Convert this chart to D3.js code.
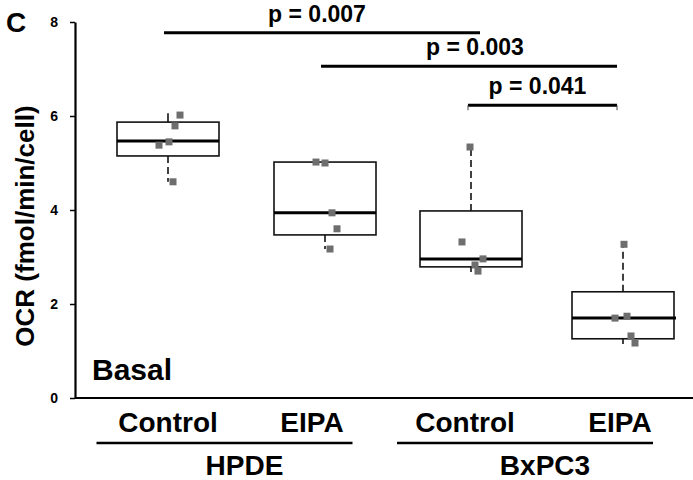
<!DOCTYPE html>
<html>
<head>
<meta charset="utf-8">
<script src="https://cdn.jsdelivr.net/npm/d3@7"></script>
<style>
  body { margin: 0; background: #fff; }
  svg { font-family: "Liberation Sans", Arial, sans-serif; }
</style>
</head>
<body>
<svg id="chart" width="693" height="480"></svg>
<script>
// categories (cell line + treatment)
const groups = ["HPDE", "BxPC3"];
const treatments = ["Control", "EIPA", "Control", "EIPA"];
const keys = ["HPDE-Control", "HPDE-EIPA", "BxPC3-Control", "BxPC3-EIPA"];

// box stats: [lowWhisker, q1, median, q3, highWhisker]
const boxStats = [
  [4.60, 5.15, 5.47, 5.87, 6.06],
  [3.17, 3.47, 3.94, 5.02, 5.02],
  [2.68, 2.79, 2.96, 3.98, 5.34],
  [1.15, 1.26, 1.70, 2.26, 3.27]
];

// individual measurements (jitter offset in px, value)
const pointsHPDEControl = [[12, 6.02], [7, 5.79], [1, 5.45], [-9, 5.38], [5, 4.60]];
const pointsHPDEEIPA = [[-9, 5.02], [0, 5.00], [7, 3.94], [12, 3.60], [5, 3.17]];
const pointsBxControl = [[-1, 5.34], [-9, 3.32], [12, 2.96], [4, 2.83], [7, 2.70]];
const pointsBxEIPA = [[1, 3.27], [-8, 1.70], [4, 1.74], [8, 1.32], [12, 1.17]];
const allPoints = [pointsHPDEControl, pointsHPDEEIPA, pointsBxControl, pointsBxEIPA];

// significance comparisons: [from index, to index, level, p label]
const comparisons = [
  [0, 2, 7.77, "p = 0.007"],
  [1, 3, 7.06, "p = 0.003"],
  [2, 3, 6.23, "p = 0.041"]
];

const yTicks = [0, 2, 4, 6, 8];

const svg = d3.select("#chart");

const x = d3.scaleBand().domain(keys).range([92, 700]);
const y = d3.scaleLinear().domain([0, 8]).range([398, 22]);
const nudge = [0, 5, -1, -1];
const cx = k => x(k) + x.bandwidth() / 2 + nudge[keys.indexOf(k)];
const boxW = 102;

// axes
svg.append("line")
  .attr("x1", 75).attr("x2", 693)
  .attr("y1", y(0)).attr("y2", y(0))
  .attr("stroke", "#000").attr("stroke-width", 2.2);

const yAxis = svg.append("g")
  .attr("transform", "translate(75,0)")
  .call(d3.axisLeft(y).tickValues(yTicks).tickSize(5).tickPadding(12).tickSizeOuter(0));
yAxis.select(".domain").attr("stroke-width", 2.2);
yAxis.selectAll(".tick line").attr("stroke-width", 1.5);
yAxis.selectAll(".tick text")
  .attr("font-size", 14).attr("font-weight", "bold").attr("fill", "#000");

// boxes
keys.forEach((k, i) => {
  const [lo, q1, med, q3, hi] = boxStats[i];
  const c = cx(k);
  const g = svg.append("g");
  // whiskers
  g.append("line")
    .attr("x1", c).attr("x2", c).attr("y1", y(q3)).attr("y2", y(hi))
    .attr("stroke", "#111").attr("stroke-width", 1.6)
    .attr("stroke-dasharray", i === 0 ? null : "7,4");
  g.append("line")
    .attr("x1", c).attr("x2", c).attr("y1", y(q1)).attr("y2", y(lo))
    .attr("stroke", "#111").attr("stroke-width", 1.6)
    .attr("stroke-dasharray", "7,4");
  g.append("rect")
    .attr("x", c - boxW / 2).attr("width", boxW)
    .attr("y", y(q3)).attr("height", y(q1) - y(q3))
    .attr("fill", "#fff").attr("stroke", "#111").attr("stroke-width", 1.6);
  g.append("line")
    .attr("x1", c - boxW / 2).attr("x2", c + boxW / 2 + (i === 3 ? 2 : 0))
    .attr("y1", y(med)).attr("y2", y(med))
    .attr("stroke", "#000").attr("stroke-width", 3);
  // points
  g.selectAll("rect.pt")
    .data(allPoints[i])
    .join("rect")
    .attr("class", "pt")
    .attr("x", d => c + d[0] - 3.5)
    .attr("y", d => y(d[1]) - 3.5)
    .attr("width", 7).attr("height", 7)
    .attr("fill", "#6e6e6e");
});

// significance bars
const barEnds = [[-4, 9], [-4, -6], [-3, -6]];
const textShift = [-5, 6, -5];
comparisons.forEach(([a, b, lvl, label], j) => {
  const x1 = cx(keys[a]) + barEnds[j][0], x2 = cx(keys[b]) + barEnds[j][1];
  svg.append("line")
    .attr("x1", x1).attr("x2", x2)
    .attr("y1", y(lvl)).attr("y2", y(lvl))
    .attr("stroke", "#000").attr("stroke-width", 3);
  if (j === 2) {
    [x1, x2].forEach(xx => svg.append("line")
      .attr("x1", xx).attr("x2", xx).attr("y1", y(lvl)).attr("y2", y(lvl) + 5)
      .attr("stroke", "#444").attr("stroke-width", 1));
  }
  svg.append("text")
    .attr("x", (x1 + x2) / 2 + textShift[j])
    .attr("y", y(lvl) - 11)
    .attr("text-anchor", "middle")
    .attr("font-size", 23).attr("font-weight", "bold")
    .text(label);
});

// treatment labels
const labelShift = [0, -13, -6, -3];
keys.forEach((k, i) => {
  svg.append("text")
    .attr("x", cx(k) + labelShift[i])
    .attr("y", 432)
    .attr("text-anchor", "middle")
    .attr("font-size", 28).attr("font-weight", "bold")
    .text(treatments[i]);
});

// group labels with underline
groups.forEach((gName, gi) => {
  const m = (cx(keys[gi * 2]) + cx(keys[gi * 2 + 1])) / 2;
  svg.append("line")
    .attr("x1", m - 150).attr("x2", m + 106)
    .attr("y1", 443).attr("y2", 443)
    .attr("stroke", "#000").attr("stroke-width", 2.5);
  svg.append("text")
    .attr("x", m - 2).attr("y", 475)
    .attr("text-anchor", "middle")
    .attr("font-size", 28).attr("font-weight", "bold")
    .text(gName);
});

// y label
svg.append("text")
  .attr("transform", "translate(34,226) rotate(-90)")
  .attr("text-anchor", "middle")
  .attr("font-size", 26).attr("font-weight", "bold")
  .text("OCR (fmol/min/cell)");

// panel letter and condition
svg.append("text")
  .attr("x", 6).attr("y", 32)
  .attr("font-size", 28).attr("font-weight", "bold")
  .text("C");
svg.append("text")
  .attr("x", 92).attr("y", 380)
  .attr("font-size", 30).attr("font-weight", "bold")
  .text("Basal");
</script>
</body>
</html>
